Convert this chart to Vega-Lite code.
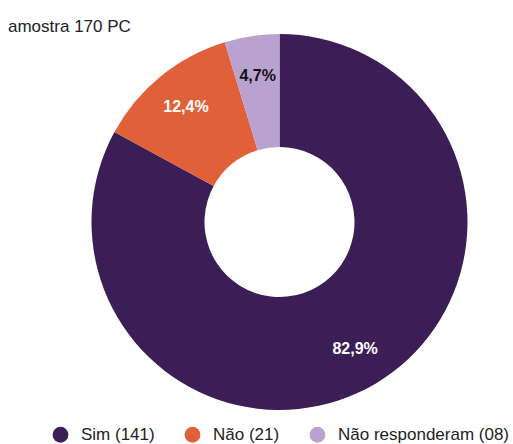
{
  "$schema": "https://vega.github.io/schema/vega-lite/v6.json",
  "autosize": "none",
  "padding": {"top": 33, "left": 0, "right": 0, "bottom": 33},
  "width": 559,
  "height": 378,
  "background": "white",
  "title": {
    "text": "amostra 170 PC",
    "anchor": "start",
    "orient": "top",
    "offset": -3,
    "dx": 8,
    "font": "Liberation Sans",
    "fontSize": 17,
    "fontWeight": "normal",
    "color": "#222222"
  },
  "data": {
    "values": [
      {"cat": "Sim (141)", "n": 141, "ord": 1, "label": "82,9%"},
      {"cat": "Não (21)", "n": 21, "ord": 2, "label": "12,4%"},
      {"cat": "Não responderam (08)", "n": 8, "ord": 3, "label": "4,7%"}
    ]
  },
  "encoding": {
    "theta": {"field": "n", "type": "quantitative", "stack": true},
    "order": {"field": "ord", "type": "quantitative"}
  },
  "layer": [
    {
      "mark": {"type": "arc", "outerRadius": 188, "innerRadius": 75},
      "encoding": {
        "color": {
          "field": "cat",
          "type": "nominal",
          "sort": ["Sim (141)", "Não (21)", "Não responderam (08)"],
          "scale": {
            "domain": ["Sim (141)", "Não (21)", "Não responderam (08)"],
            "range": ["#3b1e55", "#e0603a", "#b9a2cf"]
          },
          "legend": {
            "title": null,
            "orient": "none",
            "direction": "horizontal",
            "legendX": 52,
            "legendY": 393,
            "padding": 0,
            "symbolType": "circle",
            "symbolSize": 250,
            "symbolStrokeWidth": 0,
            "labelFont": "Liberation Sans",
            "labelFontSize": 17,
            "labelColor": "#222222",
            "labelOffset": 12,
            "labelLimit": 300,
            "columnPadding": 29
          }
        }
      }
    },
    {
      "mark": {"type": "text", "radius": 148, "font": "Liberation Sans", "fontSize": 16, "fontWeight": "bold"},
      "encoding": {
        "text": {"field": "label"},
        "color": {
          "condition": {"test": "datum.ord === 3", "value": "#111111"},
          "value": "white"
        }
      }
    }
  ]
}
